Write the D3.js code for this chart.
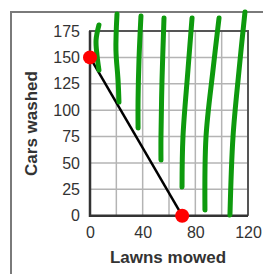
<!DOCTYPE html>
<html><head><meta charset="utf-8">
<script src="https://cdn.jsdelivr.net/npm/d3@7"></script>
<style>body{margin:0;background:#fff}svg{display:block}</style>
</head><body>
<script>
const xGridValues = [0,20,40,60,80,100,120];
const xTickLabels = [0,40,80,120];
const yTickValues = [0,25,50,75,100,125,150,175];
const xTitle = "Lawns mowed";
const yTitle = "Cars washed";
const linePoints = [[0,150],[70,0]];
const dotPoints = [[0,150],[70,0]];
const stroke1 = [[6.8,180.7],[4.6,166.4],[5.3,152.3],[6.8,138.0]];
const stroke2 = [[20.5,191.1],[19.7,157.0],[21.3,128.6],[22.0,107.7]];
const stroke3 = [[38.7,189.2],[37.2,147.5],[36.5,109.6],[36.5,83.1]];
const stroke4 = [[56.2,187.3],[54.7,128.6],[53.9,74.6],[53.9,52.8]];
const stroke5 = [[77.5,187.3],[74.4,137.9],[70.6,74.6],[69.9,27.2]];
const stroke6 = [[98.0,187.3],[93.4,137.9],[88.1,74.6],[87.3,5.4]];
const stroke7 = [[117.7,193.0],[113.2,137.9],[108.6,74.6],[106.3,0.7]];
const strokes = [stroke1,stroke2,stroke3,stroke4,stroke5,stroke6,stroke7];

const W=263,H=274;
const L=90,R=248,T=31,B=215.7;
const svg=d3.select("body").append("svg").attr("width",W).attr("height",H);

// outer frame
svg.append("path").attr("d",`M11,${H}V12H${W}`).attr("fill","none").attr("stroke","#7a7a7a").attr("stroke-width",2);

const x=d3.scaleLinear().domain([0,120]).range([L,R]);
const y=d3.scaleLinear().domain([0,175]).range([B,T]);

// grid
const g=svg.append("g");
g.selectAll(".vg").data(xGridValues).join("line")
 .attr("x1",d=>x(d)).attr("x2",d=>x(d)).attr("y1",T).attr("y2",B)
 .attr("stroke","#b4b4b4").attr("stroke-width",1.5);
g.selectAll(".hg").data(yTickValues).join("line")
 .attr("x1",L).attr("x2",R).attr("y1",d=>y(d)).attr("y2",d=>y(d))
 .attr("stroke","#b4b4b4").attr("stroke-width",1.5);

// border
svg.append("path").attr("d",`M${L},${B}V${T}H${R}V${B}`).attr("fill","none").attr("stroke","#555").attr("stroke-width",2);
svg.append("path").attr("d",`M${L},${T}V${B}H${R}`).attr("fill","none").attr("stroke","#333").attr("stroke-width",2.5);

// axes
const ax=svg.append("g").attr("transform",`translate(0,${B})`)
 .call(d3.axisBottom(x).tickValues(xTickLabels).tickSize(0).tickPadding(11));
const ay=svg.append("g").attr("transform",`translate(${L},0)`)
 .call(d3.axisLeft(y).tickValues(yTickValues).tickSize(0).tickPadding(10));
[ax,ay].forEach(a=>{a.select(".domain").remove();
 a.selectAll("text").attr("font-family","Liberation Sans, Arial, sans-serif").attr("font-size",16).attr("fill","#333");});

// titles
svg.append("text").attr("x",168).attr("y",263).attr("text-anchor","middle")
 .attr("font-family","Liberation Sans, Arial, sans-serif").attr("font-weight","bold").attr("font-size",17).attr("fill","#333").text(xTitle);
svg.append("text").attr("transform","translate(37,123.5) rotate(-90)").attr("text-anchor","middle")
 .attr("font-family","Liberation Sans, Arial, sans-serif").attr("font-weight","bold").attr("font-size",17).attr("fill","#333").text(yTitle);

// black line
svg.append("path").datum(linePoints).attr("d",d3.line().x(d=>x(d[0])).y(d=>y(d[1])))
 .attr("fill","none").attr("stroke","#000").attr("stroke-width",2.5);

// green strokes
const gl=d3.line().x(d=>x(d[0])).y(d=>y(d[1])).curve(d3.curveCatmullRom);
svg.selectAll(".gs").data(strokes).join("path").attr("d",gl)
 .attr("fill","none").attr("stroke","#0e9a0e").attr("stroke-width",5).attr("stroke-linecap","round");

// red dots
svg.selectAll(".dot").data(dotPoints).join("circle")
 .attr("cx",d=>x(d[0])).attr("cy",d=>y(d[1])).attr("r",7).attr("fill","#f00");
</script>
</body></html>
